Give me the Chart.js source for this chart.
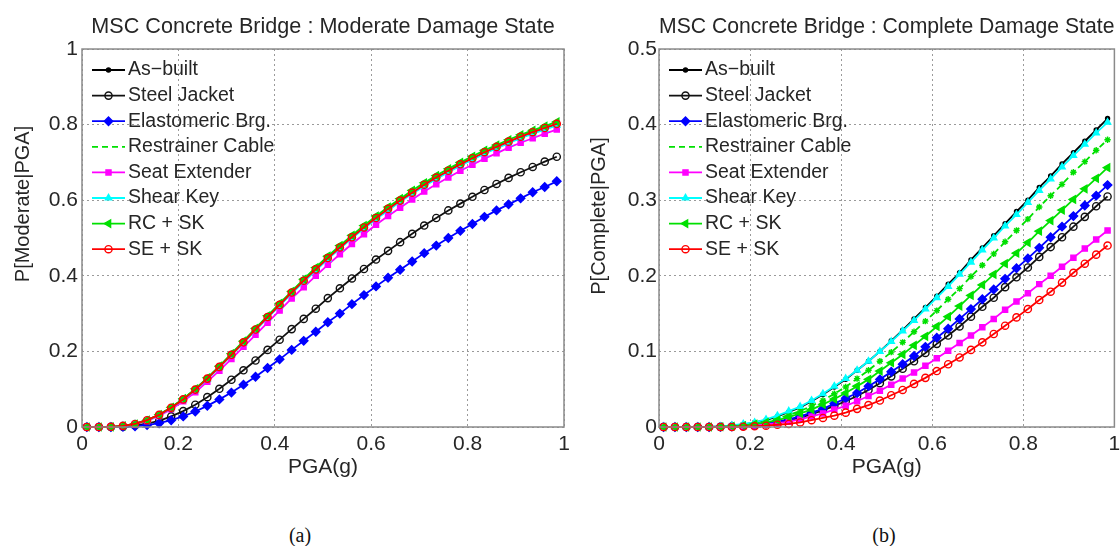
<!DOCTYPE html>
<html>
<head>
<meta charset="utf-8">
<script src="https://cdn.jsdelivr.net/npm/chart.js@4.4.1/dist/chart.umd.min.js"></script>
<style>
  body { margin: 0; background: #fff; width: 1120px; height: 546px; position: relative; overflow: hidden; }
  .box { position: absolute; top: 0; height: 490px; }
  #boxA { left: 0; width: 590px; }
  #boxB { left: 575px; width: 545px; }
  .cap { position: absolute; top: 524px; width: 60px; text-align: center;
         font: 20px "Liberation Serif", "Times New Roman", serif; color: #111; }
</style>
</head>
<body>
<div class="box" id="boxA"><canvas id="chartA"></canvas></div>
<div class="box" id="boxB"><canvas id="chartB"></canvas></div>
<div class="cap" style="left:270px">(a)</div>
<div class="cap" style="left:854px">(b)</div>

<script>
// PGA sample points (g)
const pga = [0.01, 0.035, 0.06, 0.085, 0.11, 0.135, 0.16, 0.185, 0.21, 0.235,
             0.26, 0.285, 0.31, 0.335, 0.36, 0.385, 0.41, 0.435, 0.46, 0.485,
             0.51, 0.535, 0.56, 0.585, 0.61, 0.635, 0.66, 0.685, 0.71, 0.735,
             0.76, 0.785, 0.81, 0.835, 0.86, 0.885, 0.91, 0.935, 0.96, 0.985];

const seriesNames = ['As\u2212built', 'Steel Jacket', 'Elastomeric Brg.', 'Restrainer Cable',
                     'Seat Extender', 'Shear Key', 'RC + SK', 'SE + SK'];

// (a) moderate damage state
const modAsBuilt = [0,0,0.0005,0.003,0.008,0.018,0.032,0.050,0.073,0.099,0.128,0.159,0.191,0.223,0.257,0.290,0.322,0.355,0.386,0.416,0.446,0.474,0.501,0.527,0.552,0.575,0.598,0.619,0.639,0.658,0.676,0.693,0.709,0.725,0.739,0.753,0.766,0.778,0.789,0.800];
const modSteelJacket = [0,0,0.0002,0.001,0.004,0.009,0.016,0.028,0.042,0.059,0.079,0.101,0.125,0.150,0.176,0.204,0.231,0.259,0.286,0.313,0.341,0.367,0.393,0.418,0.443,0.466,0.489,0.511,0.533,0.553,0.573,0.591,0.609,0.627,0.643,0.659,0.674,0.688,0.702,0.715];
const modElastomeric = [0,0,0.0001,0.0006,0.002,0.005,0.010,0.018,0.028,0.041,0.056,0.073,0.091,0.112,0.133,0.156,0.179,0.204,0.228,0.252,0.277,0.300,0.325,0.349,0.372,0.395,0.416,0.438,0.460,0.480,0.500,0.519,0.537,0.556,0.573,0.589,0.605,0.621,0.635,0.650];
const modRestrainer = [0,0,0.0005,0.003,0.008,0.018,0.032,0.051,0.074,0.100,0.129,0.160,0.192,0.225,0.259,0.292,0.325,0.357,0.388,0.419,0.449,0.477,0.504,0.530,0.555,0.579,0.601,0.622,0.643,0.662,0.680,0.697,0.713,0.729,0.743,0.757,0.770,0.782,0.793,0.804];
const modSeatExt = [0,0,0.0004,0.002,0.007,0.016,0.029,0.047,0.068,0.092,0.120,0.149,0.180,0.212,0.244,0.276,0.308,0.340,0.370,0.400,0.429,0.457,0.484,0.510,0.535,0.558,0.580,0.602,0.623,0.642,0.660,0.678,0.694,0.710,0.724,0.739,0.752,0.764,0.776,0.787];
const modShearKey = [0,0,0.0005,0.003,0.008,0.017,0.031,0.050,0.072,0.098,0.127,0.158,0.190,0.222,0.256,0.289,0.321,0.353,0.384,0.414,0.444,0.472,0.499,0.525,0.550,0.573,0.596,0.617,0.637,0.656,0.674,0.691,0.707,0.723,0.737,0.751,0.764,0.776,0.787,0.798];
const modRcSk = [0,0,0.0005,0.003,0.008,0.018,0.033,0.052,0.075,0.101,0.130,0.161,0.194,0.227,0.261,0.294,0.327,0.359,0.391,0.422,0.452,0.480,0.507,0.533,0.558,0.582,0.604,0.626,0.646,0.665,0.683,0.700,0.716,0.732,0.746,0.760,0.773,0.785,0.796,0.807];
const modSeSk = [0,0,0.0005,0.003,0.008,0.018,0.032,0.051,0.073,0.099,0.128,0.159,0.191,0.224,0.258,0.291,0.323,0.356,0.387,0.417,0.447,0.475,0.502,0.528,0.553,0.577,0.599,0.620,0.641,0.660,0.678,0.695,0.711,0.727,0.741,0.755,0.768,0.780,0.791,0.802];

// (b) complete damage state
const compAsBuilt = [0,0,0,0,0.0002,0.0008,0.002,0.003,0.006,0.009,0.014,0.020,0.026,0.034,0.043,0.053,0.063,0.075,0.087,0.100,0.114,0.128,0.143,0.158,0.173,0.189,0.204,0.221,0.237,0.253,0.269,0.285,0.300,0.317,0.332,0.348,0.363,0.378,0.393,0.408];
const compSteelJacket = [0,0,0,0,0,0.0002,0.0006,0.0013,0.0023,0.004,0.006,0.009,0.012,0.017,0.022,0.028,0.034,0.041,0.049,0.058,0.067,0.077,0.087,0.098,0.110,0.121,0.133,0.146,0.159,0.171,0.185,0.198,0.211,0.225,0.238,0.251,0.265,0.278,0.292,0.305];
const compElastomeric = [0,0,0,0,0,0.0002,0.0007,0.0015,0.003,0.0045,0.007,0.010,0.014,0.019,0.024,0.031,0.038,0.045,0.054,0.063,0.073,0.083,0.094,0.106,0.118,0.130,0.143,0.156,0.169,0.182,0.196,0.210,0.223,0.237,0.251,0.265,0.279,0.293,0.306,0.320];
const compRestrainer = [0,0,0,0,0,0.0004,0.001,0.003,0.005,0.007,0.011,0.016,0.021,0.028,0.035,0.044,0.053,0.064,0.075,0.087,0.099,0.112,0.126,0.140,0.154,0.169,0.183,0.199,0.214,0.229,0.245,0.260,0.275,0.291,0.306,0.321,0.337,0.351,0.366,0.380];
const compSeatExt = [0,0,0,0,0,0,0.0005,0.0011,0.002,0.0033,0.005,0.007,0.010,0.014,0.018,0.023,0.028,0.034,0.041,0.048,0.056,0.064,0.072,0.081,0.091,0.101,0.111,0.121,0.132,0.143,0.155,0.166,0.177,0.189,0.200,0.212,0.224,0.236,0.248,0.260];
const compShearKey = [0,0,0,0,0.0002,0.0008,0.002,0.004,0.006,0.010,0.015,0.021,0.027,0.035,0.044,0.054,0.064,0.075,0.087,0.100,0.113,0.127,0.141,0.156,0.171,0.186,0.202,0.218,0.234,0.250,0.266,0.281,0.297,0.313,0.328,0.344,0.359,0.374,0.389,0.403];
const compRcSk = [0,0,0,0,0,0.0003,0.001,0.002,0.004,0.006,0.009,0.013,0.018,0.023,0.030,0.037,0.045,0.054,0.063,0.074,0.085,0.096,0.108,0.120,0.133,0.146,0.160,0.174,0.188,0.202,0.216,0.230,0.244,0.259,0.273,0.287,0.301,0.315,0.329,0.343];
const compSeSk = [0,0,0,0,0,0,0,0.0004,0.0009,0.0017,0.003,0.004,0.006,0.009,0.012,0.015,0.019,0.024,0.029,0.035,0.042,0.049,0.057,0.065,0.074,0.083,0.092,0.102,0.112,0.123,0.134,0.145,0.156,0.168,0.179,0.191,0.204,0.216,0.228,0.240];

const xTicks = [0, 0.2, 0.4, 0.6, 0.8, 1];
const yTicksA = [0, 0.2, 0.4, 0.6, 0.8, 1];
const yTicksB = [0, 0.1, 0.2, 0.3, 0.4, 0.5];

// matlab-ish line/marker look per series
const styles = [
  { color: '#000000', fill: '#000000', pointStyle: 'circle', radius: 2 },
  { color: '#111111', fill: 'rgba(0,0,0,0)', pointStyle: 'circle', radius: 3.6 },
  { color: '#0000ff', fill: '#0000ff', pointStyle: 'rectRot', radius: 4.2 },
  { color: '#00e000', fill: '#00e000', pointStyle: 'star', radius: 3.2, dash: [6, 4] },
  { color: '#ff00ff', fill: '#ff00ff', pointStyle: 'rect', radius: 3.6 },
  { color: '#00ffff', fill: '#00ffff', pointStyle: 'triangle', radius: 3.6 },
  { color: '#00e000', fill: '#00e000', pointStyle: 'triangle', radius: 4.2, rotation: 270 },
  { color: '#ff0000', fill: 'rgba(0,0,0,0)', pointStyle: 'circle', radius: 3.6 }
];

const FONT = '"Liberation Sans", Arial, sans-serif';
const TXT = '#262626';

function makeDatasets(seriesList) {
  return seriesList.map((vals, i) => {
    const s = styles[i];
    return {
      label: seriesNames[i],
      data: pga.map((x, k) => ({ x: x, y: vals[k] })),
      borderColor: s.color,
      backgroundColor: s.fill,
      pointBackgroundColor: s.fill,
      pointBorderColor: s.color,
      pointStyle: s.pointStyle,
      pointRadius: s.radius,
      pointRotation: s.rotation || 0,
      pointBorderWidth: 1.4,
      borderWidth: 1.8,
      borderDash: s.dash || [],
      tension: 0,
      clip: false,
      order: seriesList.length - i   // later series drawn on top, like matlab
    };
  });
}

// legend drawn inside the axes, top-left, no box
const insideLegend = {
  id: 'insideLegend',
  afterDatasetsDraw(chart) {
    const { ctx, chartArea } = chart;
    ctx.save();
    chart.data.datasets.forEach((ds, i) => {
      const y = chartArea.top + 21 + i * 25.6;
      const x0 = chartArea.left + 10, x1 = chartArea.left + 43;
      ctx.strokeStyle = ds.borderColor;
      ctx.lineWidth = ds.borderWidth;
      ctx.setLineDash(ds.borderDash);
      ctx.beginPath();
      ctx.moveTo(x0, y);
      ctx.lineTo(x1, y);
      ctx.stroke();
      ctx.setLineDash([]);
      if (!ds.borderDash.length) {
        ctx.fillStyle = ds.pointBackgroundColor;
        ctx.strokeStyle = ds.pointBorderColor;
        ctx.lineWidth = ds.pointBorderWidth;
        Chart.helpers.drawPoint(ctx, {
          pointStyle: ds.pointStyle, rotation: ds.pointRotation,
          radius: ds.pointRadius, borderWidth: ds.pointBorderWidth
        }, (x0 + x1) / 2, y);
      }
      ctx.fillStyle = TXT;
      ctx.font = '19.5px ' + FONT;
      ctx.textBaseline = 'middle';
      ctx.textAlign = 'left';
      ctx.fillText(ds.label, x1 + 3, y);
    });
    ctx.restore();
  }
};

// full box round the axes
const axesBox = {
  id: 'axesBox',
  afterDraw(chart) {
    const { ctx, chartArea: a } = chart;
    ctx.save();
    ctx.strokeStyle = '#8a8a8a';
    ctx.lineWidth = 1.5;
    ctx.strokeRect(a.left, a.top, a.right - a.left, a.bottom - a.top);
    ctx.restore();
  }
};

// y label sits a bit above the axis middle in the original figure
const yLabel = {
  id: 'yLabel',
  afterDraw(chart, args, opts) {
    const ctx = chart.ctx;
    ctx.save();
    ctx.translate(opts.x, opts.y);
    ctx.rotate(-Math.PI / 2);
    ctx.font = '20px ' + FONT;
    ctx.fillStyle = TXT;
    ctx.textAlign = 'center';
    ctx.textBaseline = 'middle';
    ctx.fillText(opts.text, 0, 0);
    ctx.restore();
  }
};

function makeOptions(c) {
  return {
    responsive: true,
    maintainAspectRatio: false,
    animation: false,
    events: [],
    layout: { padding: { left: 0, right: c.padRight, top: 0, bottom: 0 } },
    plugins: {
      legend: { display: false },
      tooltip: { enabled: false },
      yLabel: { text: c.yTitle, x: c.yLabelX, y: c.yLabelY },
      title: {
        display: true,
        text: c.title,
        fullSize: false,
        color: TXT,
        font: { family: FONT, size: 21.6, weight: 'normal' },
        padding: { top: 13.6, bottom: 9.5 }
      }
    },
    scales: {
      x: {
        type: 'linear',
        min: 0, max: 1,
        afterBuildTicks: (scale) => { scale.ticks = xTicks.map(v => ({ value: v })); },
        afterFit: (scale) => { scale.height = 63; scale.paddingLeft = 0; scale.paddingRight = 0; },
        grid: { color: '#9a9a9a', lineWidth: 1, drawTicks: false },
        border: { display: false, dash: [2, 3] },
        ticks: { color: TXT, font: { family: FONT, size: 21 }, padding: 5, maxRotation: 0,
                 callback: (v) => String(v) },
        title: { display: true, text: 'PGA(g)', color: TXT,
                 font: { family: FONT, size: 21 }, padding: { top: 0, bottom: 10 } }
      },
      y: {
        type: 'linear',
        min: 0, max: c.yMax,
        afterBuildTicks: (scale) => { scale.ticks = c.yTicks.map(v => ({ value: v })); },
        afterFit: (scale) => { scale.width = c.yWidth; scale.paddingTop = 0; scale.paddingBottom = 0; },
        grid: { color: '#9a9a9a', lineWidth: 1, drawTicks: false },
        border: { display: false, dash: [2, 3] },
        ticks: { color: TXT, font: { family: FONT, size: 21 }, padding: c.yTickPad,
                 callback: (v) => String(v) }
      }
    }
  };
}

new Chart(document.getElementById('chartA'), {
  type: 'line',
  data: { datasets: makeDatasets([modAsBuilt, modSteelJacket, modElastomeric, modRestrainer,
                                  modSeatExt, modShearKey, modRcSk, modSeSk]) },
  options: makeOptions({
    title: 'MSC Concrete Bridge : Moderate Damage State',
    yTitle: 'P[Moderate|PGA]', yMax: 1, yTicks: yTicksA,
    yWidth: 82, padRight: 26, yTickPad: 4, yLabelX: 23, yLabelY: 204
  }),
  plugins: [insideLegend, axesBox, yLabel]
});

new Chart(document.getElementById('chartB'), {
  type: 'line',
  data: { datasets: makeDatasets([compAsBuilt, compSteelJacket, compElastomeric, compRestrainer,
                                  compSeatExt, compShearKey, compRcSk, compSeSk]) },
  options: makeOptions({
    title: 'MSC Concrete Bridge : Complete Damage State',
    yTitle: 'P[Complete|PGA]', yMax: 0.5, yTicks: yTicksB,
    yWidth: 84, padRight: 1, yTickPad: 2, yLabelX: 24, yLabelY: 216
  }),
  plugins: [insideLegend, axesBox, yLabel]
});
</script>
</body>
</html>
